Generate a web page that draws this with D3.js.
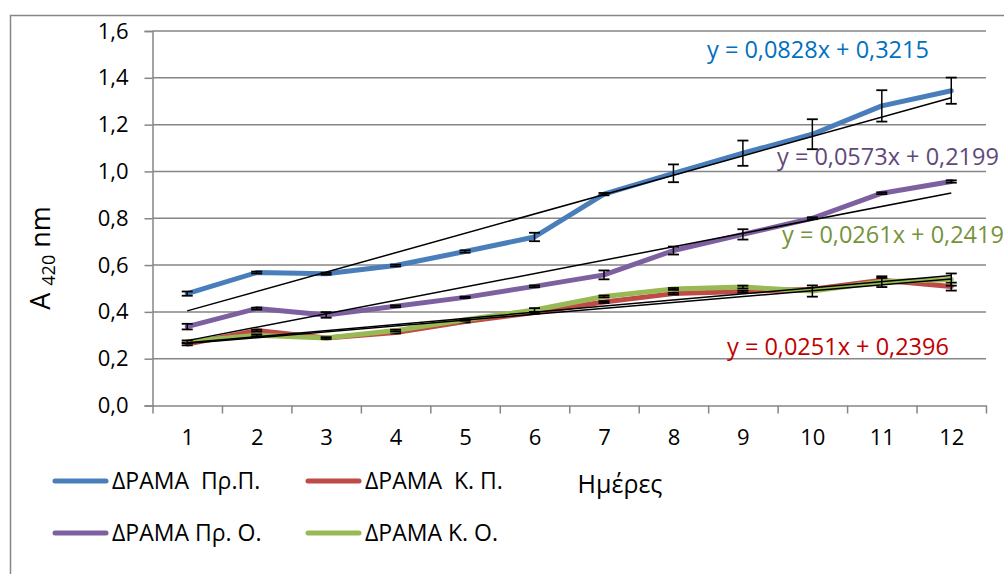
<!DOCTYPE html>
<html>
<head>
<meta charset="utf-8">
<script src="https://cdn.jsdelivr.net/npm/d3@7"></script>
<style>
  html, body { margin: 0; padding: 0; background: #fff; }
  svg { display: block; font-family: "Open Sans", "Noto Sans", sans-serif; }
  text { white-space: pre; }
</style>
</head>
<body>
<svg id="chart" width="1004" height="574"></svg>
<script>
// Days on the x axis
const days = [1, 2, 3, 4, 5, 6, 7, 8, 9, 10, 11, 12];

// Absorbance at 420 nm per sample
const prP  = [0.478, 0.568, 0.563, 0.598, 0.658, 0.720, 0.903, 0.992, 1.078, 1.159, 1.280, 1.345];
const kP   = [0.263, 0.320, 0.288, 0.312, 0.359, 0.397, 0.442, 0.478, 0.487, 0.497, 0.535, 0.508];
const prO  = [0.337, 0.414, 0.387, 0.424, 0.462, 0.509, 0.558, 0.662, 0.731, 0.800, 0.907, 0.957];
const kO   = [0.272, 0.300, 0.288, 0.320, 0.366, 0.408, 0.466, 0.498, 0.506, 0.489, 0.529, 0.538];

// Standard deviations (error bars)
const prPErr = [0.009, 0.004, 0.004, 0.004, 0.005, 0.018, 0.005, 0.038, 0.054, 0.064, 0.067, 0.056];
const kPErr  = [0.006, 0.004, 0.004, 0.004, 0.004, 0.004, 0.004, 0.004, 0.004, 0.004, 0.010, 0.017];
const prOErr = [0.012, 0.004, 0.012, 0.004, 0.003, 0.004, 0.019, 0.017, 0.022, 0.004, 0.004, 0.005];
const kOErr  = [0.006, 0.004, 0.004, 0.004, 0.004, 0.008, 0.004, 0.004, 0.006, 0.024, 0.023, 0.026];

// Linear trend coefficients [slope, intercept]
const prPTrend = [0.0828, 0.3215];
const kPTrend  = [0.0251, 0.2396];
const prOTrend = [0.0573, 0.2199];
const kOTrend  = [0.0261, 0.2419];

// Series names
const seriesNames = ["ΔΡΑΜΑ  Πρ.Π.", "ΔΡΑΜΑ  Κ. Π.", "ΔΡΑΜΑ Πρ. Ο.", "ΔΡΑΜΑ Κ. Ο."];

// Axis ticks
const yTicks = [0, 0.2, 0.4, 0.6, 0.8, 1.0, 1.2, 1.4, 1.6];

const series = [
  { name: seriesNames[0], values: prP, err: prPErr, trend: prPTrend, color: "#4a7ebb", label: "#0070c0", lx: 707, ly: 58 },
  { name: seriesNames[1], values: kP,  err: kPErr,  trend: kPTrend,  color: "#be4b48", label: "#c00000", lx: 727, ly: 355 },
  { name: seriesNames[2], values: prO, err: prOErr, trend: prOTrend, color: "#7d60a0", label: "#5f497a", lx: 777, ly: 165 },
  { name: seriesNames[3], values: kO,  err: kOErr,  trend: kOTrend,  color: "#98b954", label: "#76923c", lx: 782, ly: 243 }
];

const svg = d3.select("#chart");
const gridColor = "#868686";

// Plot area
const plot = { left: 152.5, right: 986, top: 31, bottom: 405.5 };

const x = d3.scaleLinear().domain([0.5, 12.5]).range([plot.left, plot.right]);
const y = d3.scaleLinear().domain([0, 1.6]).range([plot.bottom, plot.top]);

const comma = v => d3.format(".1f")(v).replace(".", ",");
const comma4 = v => d3.format(".4f")(v).replace(".", ",");

// Outer chart frame
svg.append("rect")
  .attr("x", 10.5).attr("y", 15.5)
  .attr("width", 1100).attr("height", 700)
  .attr("fill", "none").attr("stroke", gridColor).attr("stroke-width", 1.5);

// Horizontal gridlines
svg.append("g")
  .selectAll("line")
  .data(yTicks.slice(1))
  .join("line")
  .attr("x1", plot.left).attr("x2", plot.right)
  .attr("y1", d => y(d)).attr("y2", d => y(d))
  .attr("stroke", gridColor).attr("stroke-width", 1.5);

// Y axis
const yAxis = svg.append("g")
  .attr("transform", `translate(${plot.left},0)`)
  .call(d3.axisLeft(y).tickValues(yTicks).tickFormat(comma).tickSize(8).tickPadding(16));
yAxis.select(".domain").attr("stroke", gridColor).attr("stroke-width", 1.5);
yAxis.selectAll(".tick line").attr("stroke", gridColor).attr("stroke-width", 1.5);
yAxis.selectAll("text")
  .attr("font-family", "Open Sans").attr("font-size", 22).attr("fill", "#000");

// X axis: tick marks at category boundaries
const xBounds = d3.range(0.5, 13, 1);
const xAxis = svg.append("g")
  .attr("transform", `translate(0,${plot.bottom})`)
  .call(d3.axisBottom(x).tickValues(xBounds).tickFormat("").tickSize(8).tickSizeOuter(0));
xAxis.select(".domain").attr("stroke", gridColor).attr("stroke-width", 1.5);
xAxis.selectAll(".tick line").attr("stroke", gridColor).attr("stroke-width", 1.5);

// X axis category labels
const xLabels = svg.append("g")
  .attr("transform", `translate(0,${plot.bottom})`)
  .call(d3.axisBottom(x).tickValues(days).tickFormat(d3.format("d")).tickSize(0).tickPadding(24));
xLabels.select(".domain").remove();
xLabels.selectAll("text")
  .attr("font-family", "Open Sans").attr("font-size", 22).attr("fill", "#000");

// Axis titles
const yTitle = svg.append("text")
  .attr("transform", "translate(50,258) rotate(-90)")
  .attr("text-anchor", "middle")
  .attr("font-size", 27).attr("fill", "#000");
yTitle.append("tspan").text("A ");
yTitle.append("tspan").attr("font-size", 18).attr("dy", 5).text("420");
yTitle.append("tspan").attr("dy", -5).text(" nm");

svg.append("text")
  .attr("x", 620).attr("y", 493)
  .attr("text-anchor", "middle")
  .attr("font-size", 25).attr("fill", "#000")
  .text("Ημέρες");

// Data lines
const line = d3.line()
  .x((d, i) => x(days[i]))
  .y(d => y(d));

const seriesG = svg.append("g");
series.forEach(s => {
  const g = seriesG.append("g");
  g.append("path")
    .attr("d", line(s.values))
    .attr("fill", "none")
    .attr("stroke", s.color)
    .attr("stroke-width", 5)
    .attr("stroke-linejoin", "round")
    .attr("stroke-linecap", "round");

  // Error bars
  const eb = g.selectAll("g.err")
    .data(s.values.map((v, i) => ({ x: days[i], v, e: s.err[i] })))
    .join("g");
  eb.append("line")
    .attr("x1", d => x(d.x)).attr("x2", d => x(d.x))
    .attr("y1", d => y(d.v - d.e)).attr("y2", d => y(d.v + d.e))
    .attr("stroke", "#000").attr("stroke-width", 1.5);
  [-1, 1].forEach(sign => {
    eb.append("line")
      .attr("x1", d => x(d.x) - 5.5).attr("x2", d => x(d.x) + 5.5)
      .attr("y1", d => y(d.v + sign * d.e)).attr("y2", d => y(d.v + sign * d.e))
      .attr("stroke", "#000").attr("stroke-width", 1.8);
  });
});

// Linear trendlines
const trendG = svg.append("g");
series.forEach(s => {
  const [m, b] = s.trend;
  trendG.append("line")
    .attr("x1", x(days[0])).attr("y1", y(m * days[0] + b))
    .attr("x2", x(days[days.length - 1])).attr("y2", y(m * days[days.length - 1] + b))
    .attr("stroke", "#000").attr("stroke-width", 1.5);
});

// Trendline equations
series.forEach(s => {
  const [m, b] = s.trend;
  svg.append("text")
    .attr("x", s.lx).attr("y", s.ly)
    .attr("font-size", 23.5)
    .attr("fill", s.label)
    .text(`y = ${comma4(m)}x + ${comma4(b)}`);
});

// Legend
const legendPos = [
  { lx: 53, ly: 481 }, { lx: 306, ly: 481 },
  { lx: 53, ly: 533 }, { lx: 306, ly: 533 }
];
const legend = svg.append("g");
series.forEach((s, i) => {
  const p = legendPos[i];
  legend.append("line")
    .attr("x1", p.lx + 2).attr("x2", p.lx + 53)
    .attr("y1", p.ly).attr("y2", p.ly)
    .attr("stroke", s.color).attr("stroke-width", 5)
    .attr("stroke-linecap", "round");
  legend.append("text")
    .attr("x", p.lx + 59).attr("y", p.ly + 8)
    .attr("font-size", 23).attr("fill", "#000")
    .text(s.name);
});
</script>
</body>
</html>
